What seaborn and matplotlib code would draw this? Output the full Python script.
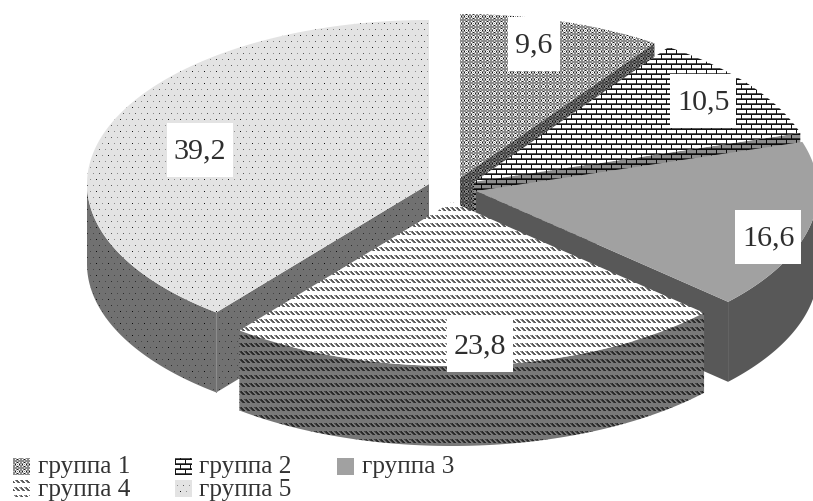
import numpy as np
import matplotlib
matplotlib.use("Agg")
import matplotlib.pyplot as plt
from matplotlib.patches import Polygon, Rectangle
import seaborn as sns

groups = ["группа 1", "группа 2", "группа 3", "группа 4", "группа 5"]
shares = [9.6, 10.5, 16.6, 23.8, 39.2]
share_labels = ["9,6", "10,5", "16,6", "23,8", "39,2"]

W, H = 813, 502
RX, RY, DEPTH = 342, 164, 80
# exploded slice apexes, in canvas pixels
centers = [(460, 179), (474, 183), (476, 192), (452, 203), (429, 185)]
label_pos = [(534, 45), (703, 102), (768, 238), (480, 346), (200, 151)]
legend_baselines = [473, 496.5]
swatch_tops = [459, 481]

SHADES = {"W": 1.0, "L": 0.78, "G": 0.55, "D": 0.35, "K": 0.08, "E": 0.89, "F": 0.63}


def tile(rows):
    return np.array([[SHADES[c] for c in r] for r in rows])


def dotted(size, spots):
    grid = [["E"] * size for _ in range(size)]
    for r, c, mark in spots:
        grid[r][c] = mark
    return tile(grid)


tiles = [
    tile(["GGGLGGG", "GWGKGWG", "GGLWLGG", "LKWGWKL", "GGLWLGG", "GWGKGWG", "GGGLGGG"]),
    tile(["KKKKKKKKKK", "WWWWWKWWWW", "WWWWWKWWWW", "WWWWWKWWWW", "DDDDDKDDDD",
          "KKKKKKKKKK", "KWWWWWWWWW", "KWWWWWWWWW", "KWWWWWWWWW", "KDDDDDDDDD"]),
    tile(["F"]),
    tile(["GDWWG", "GDDWW", "WGDDW", "WWGDD", "WWWWW", "WWWWW", "WWWWW", "WWWWW"]),
    dotted(12, [(0, 0, "K"), (0, 6, "G"), (6, 3, "D"), (6, 9, "G")]),
]
wall_factor = [0.55, 0.55, 0.55, 0.47, 0.5]

sns.set_theme(style="white", rc={"font.family": ["Liberation Serif", "DejaVu Serif"]})
fig, ax = plt.subplots(figsize=(W / 100, H / 100), dpi=100)
fig.subplots_adjust(0, 0, 1, 1)
ax.set_xlim(0, W)
ax.set_ylim(H, 0)
ax.set_autoscale_on(False)
ax.axis("off")
sns.despine(ax=ax, left=True, bottom=True)


def fill(xy, pattern, factor=1.0, z=1):
    """Paint a polygon with a pixel-aligned repeating shade pattern."""
    h, w = pattern.shape
    canvas = np.tile(pattern, (H // h + 1, W // w + 1))[:H, :W] * factor
    im = ax.imshow(canvas, cmap="gray", vmin=0, vmax=1, extent=(0, W, H, 0),
                   interpolation="nearest", aspect="auto", zorder=z)
    im.set_clip_path(Polygon(xy, closed=True, transform=ax.transData))


def rim(c, t):
    return np.column_stack([c[0] + RX * np.sin(t), c[1] - RY * np.cos(t)])


edges = np.concatenate([[0], np.cumsum(shares)]) / np.sum(shares) * 2 * np.pi
# back slices first, so the nearer ones overlap them
z = 1
for i in [0, 1, 2, 4, 3]:
    c, t0, t1 = centers[i], edges[i], edges[i + 1]
    down = np.array([0, DEPTH])
    # cut faces that turn towards the viewer
    for t, visible in ((t0, np.sin(t0) < -1e-6), (t1, np.sin(t1) > 1e-6)):
        if visible:
            p = rim(c, np.array([t]))[0]
            fill([c, p, p + down, np.array(c) + down], tiles[i], wall_factor[i], z)
            z += 1
    # outer rim on the near half
    a, b = max(t0, np.pi / 2), min(t1, 3 * np.pi / 2)
    if b > a:
        arc = rim(c, np.linspace(a, b, 120))
        fill(np.vstack([arc, (arc + down)[::-1]]), tiles[i], wall_factor[i], z)
        z += 1
    if i == 4:
        p = rim(c, np.array([t0]))[0]
        ax.plot([p[0], p[0]], [p[1], p[1] + DEPTH], color="#8c8c8c", lw=0.8, zorder=z)
    # top face
    arc = rim(c, np.linspace(t0, t1, 200))
    fill(np.vstack([[c], arc]), tiles[i], 1.0, z + 1)
    z += 2

renderer = fig.canvas.get_renderer()
for text, (x, y) in zip(share_labels, label_pos):
    label = ax.text(x, y, text, fontsize=21.6, color="#2e2e2e", ha="center", va="center", zorder=z + 1)
    # white plate behind each value: tight sideways, tall vertically
    half_w = label.get_window_extent(renderer).width / 2 + 7
    ax.add_patch(Rectangle((x - half_w, y - 27), 2 * half_w, 54, fc="white", ec="none", zorder=z))

# hand-placed two-row legend with pattern swatches
swatch_x = [13, 175, 337]
text_x = [38, 199, 362]
z += 2
for n, name in enumerate(groups):
    col, row = n % 3, n // 3
    x0, x1, y0, y1 = swatch_x[col], swatch_x[col] + 17, swatch_tops[row], swatch_tops[row] + 17
    fill([(x0, y0), (x1, y0), (x1, y1), (x0, y1)], tiles[n], 1.0, z)
    ax.text(text_x[col], legend_baselines[row], name, fontsize=18.2, color="#333333",
            ha="left", va="baseline", zorder=z)

fig.savefig("out.png", dpi=100, facecolor="white")
